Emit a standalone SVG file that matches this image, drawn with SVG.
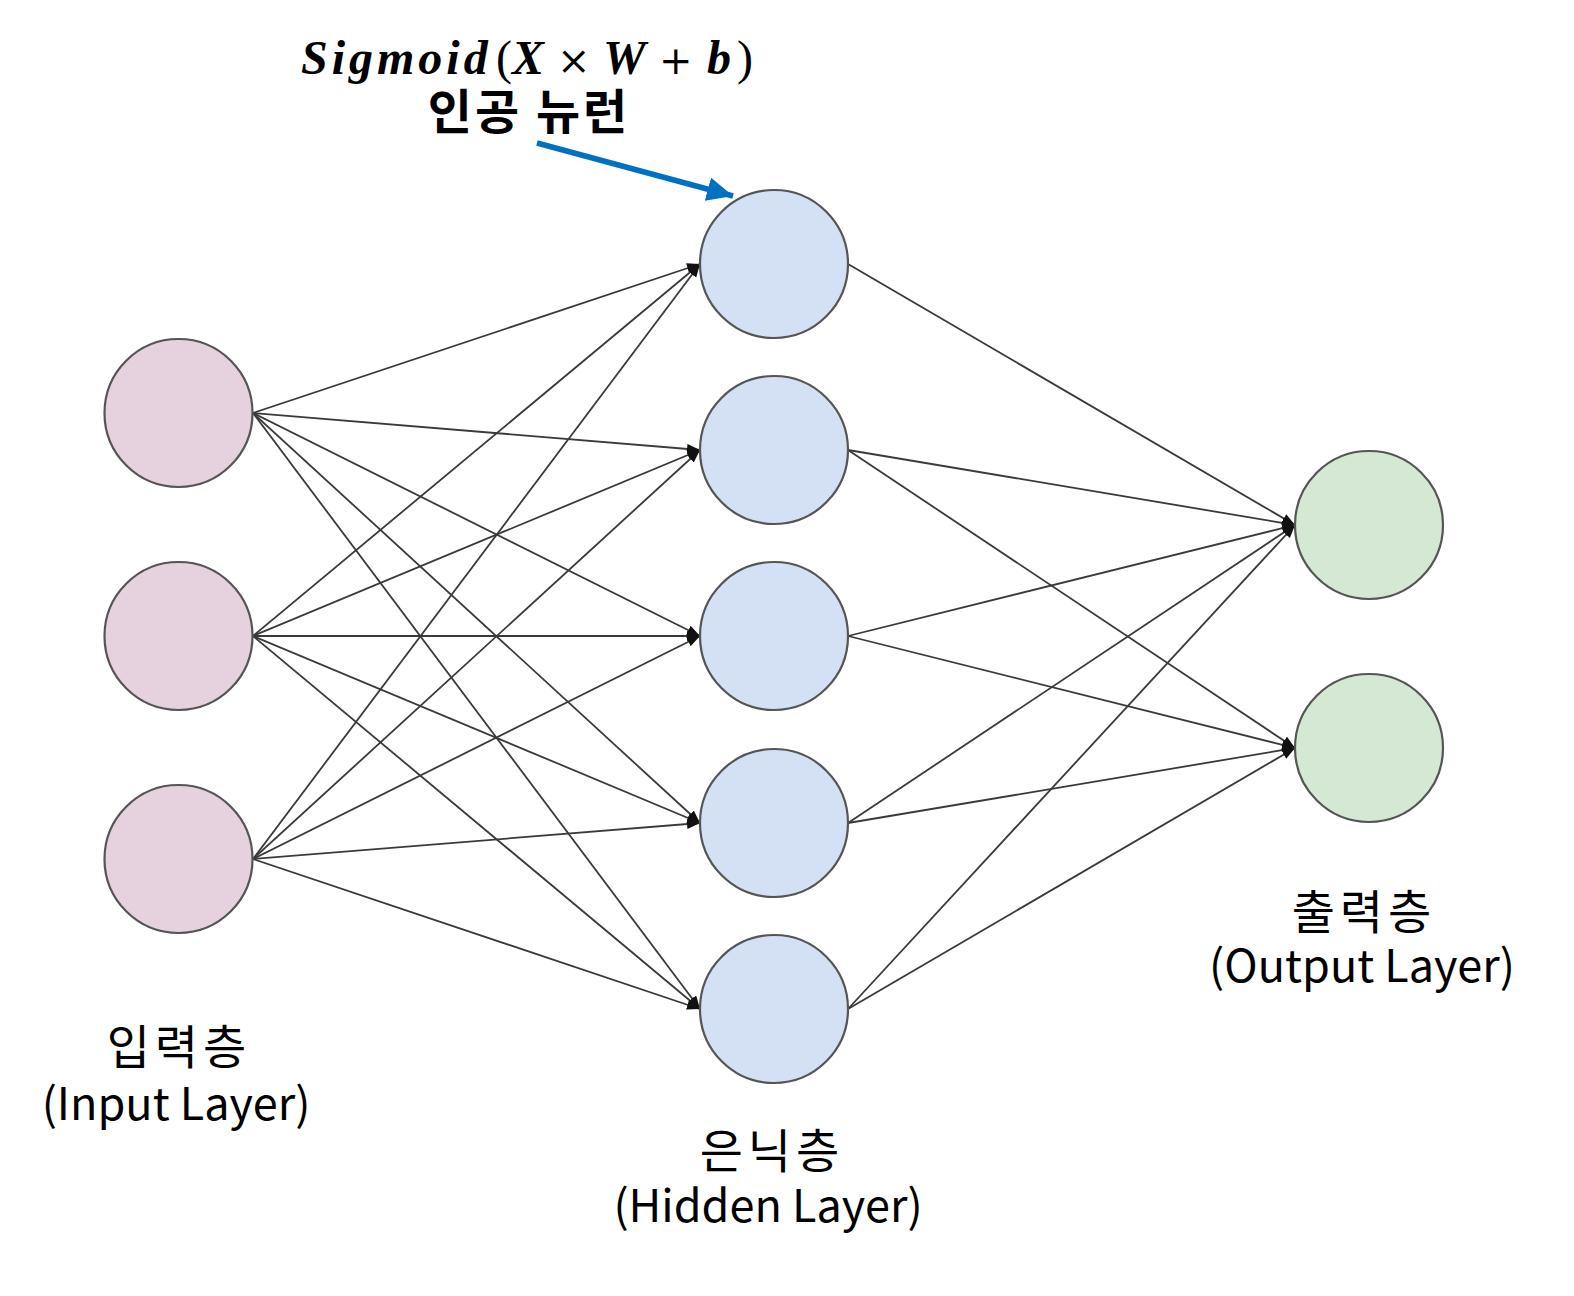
<svg xmlns="http://www.w3.org/2000/svg" width="1574" height="1296" viewBox="0 0 1574 1296">
<style>
.edge{stroke:#3a3a3a;stroke-width:1.8;fill:none}
.node{stroke:#555;stroke-width:2.2}
.inp{fill:#E6D1DF}
.hid{fill:#D4E1F5}
.out{fill:#D5E8D4}
.lbl{font-family:"Noto Sans CJK KR","Noto Sans",sans-serif;font-size:45px;fill:#000;text-anchor:middle}
.ko{font-size:47px;letter-spacing:5px}
.f{font-family:"Liberation Serif","DejaVu Serif",serif;font-size:48px;fill:#000}
.bi{font-weight:bold;font-style:italic}
.op{font-family:"DejaVu Serif",serif;font-size:40px}
</style>
<defs>
<marker id="ah" markerUnits="userSpaceOnUse" markerWidth="14" markerHeight="12" refX="13" refY="5" orient="auto">
<path d="M0,0 L13,5 L0,10 z" fill="#111"/>
</marker>
<marker id="bh" markerUnits="userSpaceOnUse" markerWidth="28" markerHeight="26" refX="26" refY="12" orient="auto">
<path d="M0,0 L26,12 L0,24 z" fill="#0070C0"/>
</marker>
</defs>
<rect width="1574" height="1296" fill="#fff"/>
<g id="connectors">
<line class="edge" x1="253" y1="413" x2="700" y2="264" marker-end="url(#ah)"/>
<line class="edge" x1="253" y1="413" x2="700" y2="450" marker-end="url(#ah)"/>
<line class="edge" x1="253" y1="413" x2="700" y2="636" marker-end="url(#ah)"/>
<line class="edge" x1="253" y1="413" x2="700" y2="823" marker-end="url(#ah)"/>
<line class="edge" x1="253" y1="413" x2="700" y2="1009" marker-end="url(#ah)"/>
<line class="edge" x1="253" y1="636" x2="700" y2="264" marker-end="url(#ah)"/>
<line class="edge" x1="253" y1="636" x2="700" y2="450" marker-end="url(#ah)"/>
<line class="edge" x1="253" y1="636" x2="700" y2="636" marker-end="url(#ah)"/>
<line class="edge" x1="253" y1="636" x2="700" y2="823" marker-end="url(#ah)"/>
<line class="edge" x1="253" y1="636" x2="700" y2="1009" marker-end="url(#ah)"/>
<line class="edge" x1="253" y1="859" x2="700" y2="264" marker-end="url(#ah)"/>
<line class="edge" x1="253" y1="859" x2="700" y2="450" marker-end="url(#ah)"/>
<line class="edge" x1="253" y1="859" x2="700" y2="636" marker-end="url(#ah)"/>
<line class="edge" x1="253" y1="859" x2="700" y2="823" marker-end="url(#ah)"/>
<line class="edge" x1="253" y1="859" x2="700" y2="1009" marker-end="url(#ah)"/>
<line class="edge" x1="848" y1="264" x2="1295" y2="525" marker-end="url(#ah)"/>
<line class="edge" x1="848" y1="450" x2="1295" y2="525" marker-end="url(#ah)"/>
<line class="edge" x1="848" y1="450" x2="1295" y2="748" marker-end="url(#ah)"/>
<line class="edge" x1="848" y1="636" x2="1295" y2="525" marker-end="url(#ah)"/>
<line class="edge" x1="848" y1="636" x2="1295" y2="748" marker-end="url(#ah)"/>
<line class="edge" x1="848" y1="823" x2="1295" y2="525" marker-end="url(#ah)"/>
<line class="edge" x1="848" y1="823" x2="1295" y2="748" marker-end="url(#ah)"/>
<line class="edge" x1="848" y1="1009" x2="1295" y2="525" marker-end="url(#ah)"/>
<line class="edge" x1="848" y1="1009" x2="1295" y2="748" marker-end="url(#ah)"/>
<line x1="537" y1="143" x2="733" y2="196" stroke="#0070C0" stroke-width="5.5" marker-end="url(#bh)"/>
</g>
<g id="input1"><circle class="node inp" cx="178.5" cy="413" r="74"/></g>
<g id="input2"><circle class="node inp" cx="178.5" cy="636" r="74"/></g>
<g id="input3"><circle class="node inp" cx="178.5" cy="859" r="74"/></g>
<g id="hidden1"><circle class="node hid" cx="774" cy="264" r="74"/></g>
<g id="hidden2"><circle class="node hid" cx="774" cy="450" r="74"/></g>
<g id="hidden3"><circle class="node hid" cx="774" cy="636" r="74"/></g>
<g id="hidden4"><circle class="node hid" cx="774" cy="823" r="74"/></g>
<g id="hidden5"><circle class="node hid" cx="774" cy="1009" r="74"/></g>
<g id="output1"><circle class="node out" cx="1369" cy="525" r="74"/></g>
<g id="output2"><circle class="node out" cx="1369" cy="748" r="74"/></g>
<g id="formula">
<text class="f" y="74"><tspan class="bi" x="301" letter-spacing="4">Sigmoid</tspan><tspan x="496">(</tspan><tspan class="bi" x="512">X</tspan><tspan class="op" x="557">×</tspan><tspan class="bi" x="603">W</tspan><tspan class="op" x="659">+</tspan><tspan class="bi" x="707">b</tspan><tspan x="737">)</tspan></text>
<text x="529" y="129" font-family="'Noto Sans CJK KR','Noto Sans',sans-serif" font-size="48" font-weight="bold" letter-spacing="3" text-anchor="middle">인공 뉴런</text>
</g>
<g id="labels">
<text class="lbl ko" x="179" y="1064">입력층</text>
<text class="lbl" x="176" y="1120">(Input Layer)</text>
<text class="lbl ko" x="772" y="1168">은닉층</text>
<text class="lbl" x="768" y="1222">(Hidden Layer)</text>
<text class="lbl ko" x="1364" y="929">출력층</text>
<text class="lbl" x="1362" y="982">(Output Layer)</text>
</g>
</svg>
